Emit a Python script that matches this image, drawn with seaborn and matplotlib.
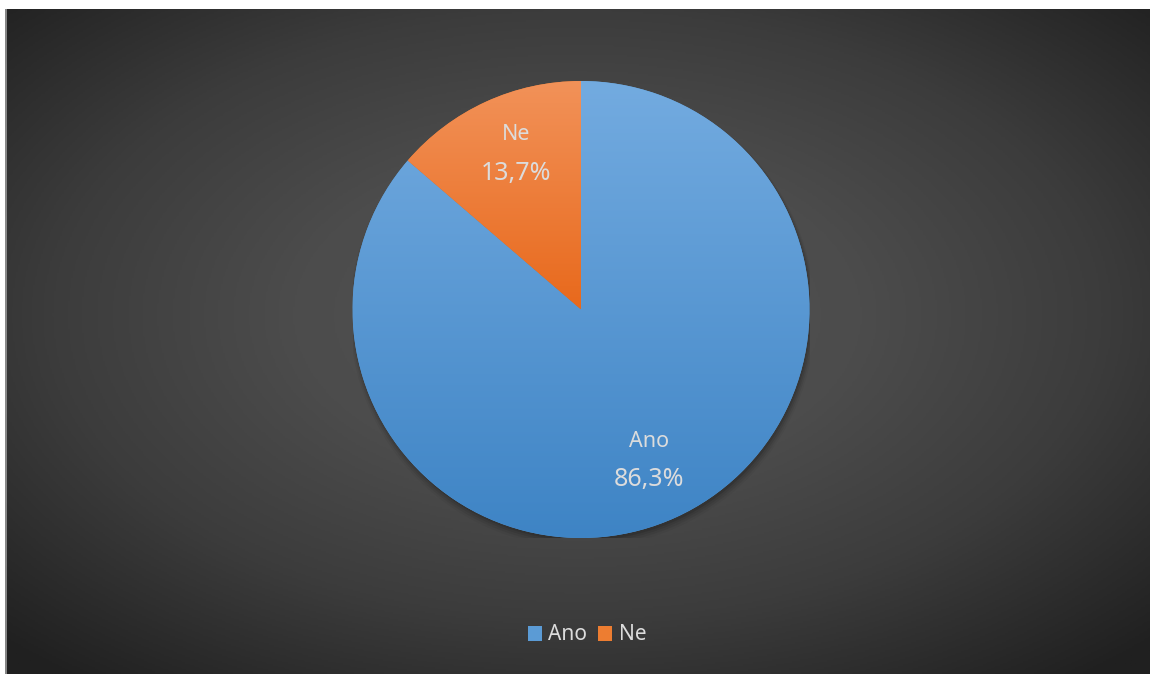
import numpy as np
import matplotlib
matplotlib.use("Agg")
import matplotlib.pyplot as plt
from matplotlib.colors import LinearSegmentedColormap
from matplotlib.patches import Rectangle, Circle
import seaborn as sns

# Survey answers and their shares (percent)
categories = ["Ano", "Ne"]
shares = [86.3, 13.7]
share_labels = ["86,3%", "13,7%"]

sns.set_theme(style="white")
plt.rcParams["font.family"] = ["Noto Sans", "DejaVu Sans"]

W, H = 1150, 674
fig = plt.figure(figsize=(W / 100, H / 100), dpi=100, facecolor="white")

# Dark radial-gradient panel behind the chart
bg = fig.add_axes([5 / W, 0, 1 - 5 / W, 1 - 9 / H])
bg.set_axis_off()
yy, xx = np.mgrid[0:1:400j, 0:1:700j]
d = np.sqrt(((xx - 0.5) / 0.5) ** 2 + ((yy - 0.46) / 0.5) ** 2) / np.sqrt(2)
d = np.clip(d, 0, 1)
bg_cmap = LinearSegmentedColormap.from_list(
    "bg", [(0, "#535353"), (0.35, "#4c4c4c"), (0.65, "#3c3c3c"), (1, "#202020")])
bg.imshow(d, cmap=bg_cmap, extent=[0, 1, 0, 1], aspect="auto", origin="upper", vmin=0, vmax=1)
bg.set_xlim(0, 1)
bg.set_ylim(0, 1)
bg.add_line(plt.Line2D([0.0008, 0.0008], [0, 1], color="#9a9a9a", lw=1.2))

# Pie axes: centre (581, 309), radius 228 px
cx, cy, r = 581, 309.5, 228.5
ax = fig.add_axes([(cx - r) / W, (H - cy - r) / H, 2 * r / W, 2 * r / H])
ax.set_axis_off()

# soft drop shadow under the pie
for k, a in enumerate([0.10, 0.08, 0.06, 0.04]):
    ax.add_patch(Circle((0.006, -0.012 - 0.004 * k), 1.0 + 0.006 * k, color="black",
                        alpha=a, lw=0, zorder=0))

colors = ["#5b9bd5", "#ed7d31"]
grads = [("#73abe0", "#3e84c5"), ("#f29259", "#e8691c")]
wedges, _ = ax.pie(shares, colors=colors, startangle=90, counterclock=False,
                   radius=1.0, wedgeprops=dict(linewidth=0))

for w, (top, bot) in zip(wedges, grads):
    ext = w.get_path().get_extents(w.get_patch_transform())
    cmap = LinearSegmentedColormap.from_list("g", [top, bot])
    grad = np.linspace(0, 1, 256).reshape(-1, 1)
    im = ax.imshow(grad, cmap=cmap, extent=[ext.x0, ext.x1, ext.y0, ext.y1],
                   aspect="auto", origin="upper", zorder=2)
    im.set_clip_path(w)

ax.set_xlim(-1, 1)
ax.set_ylim(-1, 1)

# Category name and share inside each slice
txt_color = "#dcdcdc"
label_dist = [0.757, 0.72]
label_dx = [-3, 3]
for w, name, lab, ld, dx in zip(wedges, categories, share_labels, label_dist, label_dx):
    mid = np.deg2rad((w.theta1 + w.theta2) / 2)
    x, y = ld * np.cos(mid), ld * np.sin(mid)
    ax.annotate(name, (x, y), xytext=(dx, 18), textcoords="offset points",
                ha="center", va="center", fontsize=15.5, color=txt_color, zorder=5)
    ax.annotate(lab, (x, y), xytext=(dx, -9.5), textcoords="offset points",
                ha="center", va="center", fontsize=18, color=txt_color, zorder=5)

# Legend at the bottom
handles = [Rectangle((0, 0), 1, 1, facecolor=c, edgecolor="none") for c in colors]
leg = fig.legend(handles, categories, loc="center", bbox_to_anchor=(587 / W, 1 - 635 / H),
                 ncol=2, frameon=False, fontsize=15, handlelength=0.7, handleheight=0.7,
                 handletextpad=0.3, columnspacing=0.5, labelcolor=txt_color)

fig.savefig("out.png", dpi=100, facecolor="white")
